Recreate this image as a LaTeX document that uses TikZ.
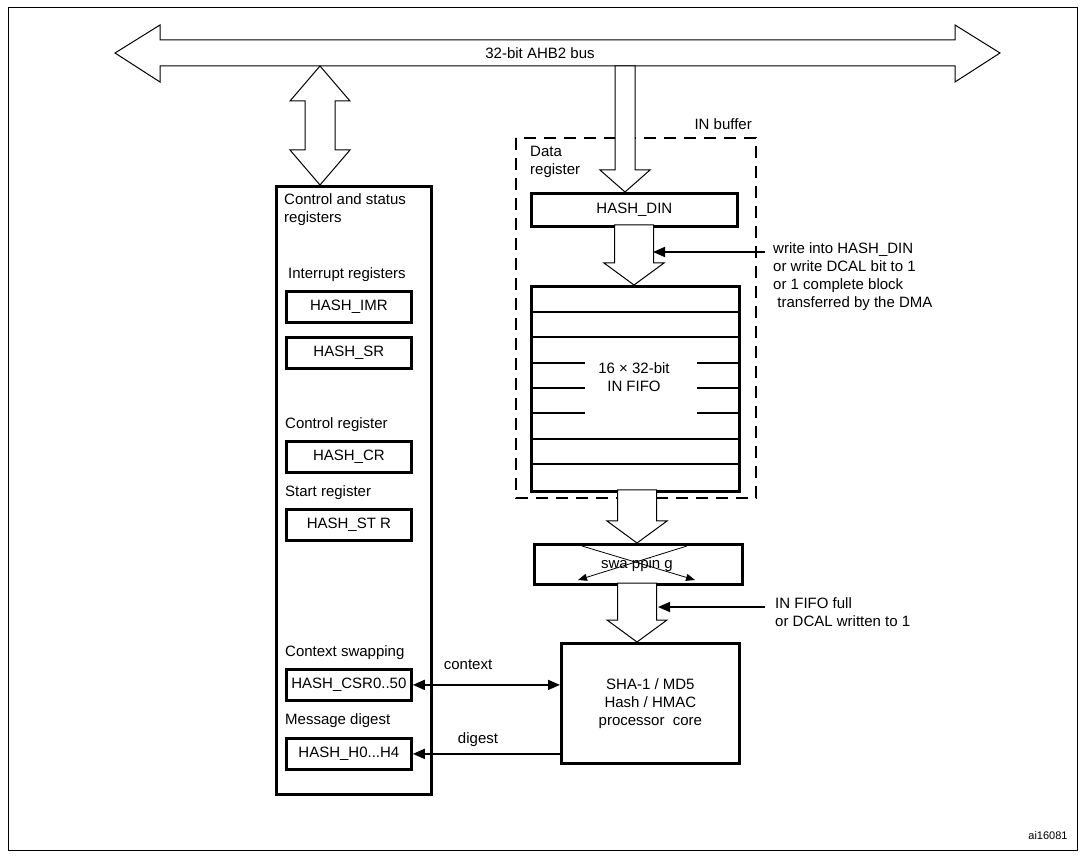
\documentclass[tikz,border=0pt]{standalone}
\usepackage{fontspec}
\setmainfont{Liberation Sans}
\usetikzlibrary{arrows.meta,positioning}
\tikzset{
  txt/.style={font=\fontsize{15}{18}\selectfont},
  box/.style={draw, line width=2.8pt, inner sep=0pt},
  reg/.style={box, txt, minimum width=125pt, minimum height=31pt},
  lbl/.style={txt, inner sep=0pt},
  hollow/.style={draw, line width=1pt, fill=white},
  sig/.style={line width=1.6pt, -{Triangle[length=12pt,width=10pt]}}
}
% block arrow pointing down: x center, top y, tip y, half shaft, half head
\newcommand{\downarrowblk}[5]{%
  \draw[hollow] (#1-#4,#2) -- (#1+#4,#2) -- (#1+#4,#3-22) -- (#1+#5,#3-22)
    -- (#1,#3) -- (#1-#5,#3-22) -- (#1-#4,#3-22) -- cycle;}
\begin{document}
\begin{tikzpicture}[x=1pt,y=-1pt]
\useasboundingbox (0,0) rectangle (1085,858);
% Frame
\draw[line width=1pt] (8,8) rectangle (1077,850);

% Bus
\draw[hollow] (115,53) -- (160,25) -- (160,40) -- (955,40) -- (955,25) -- (1000,53)
  -- (955,82) -- (955,66) -- (160,66) -- (160,82) -- cycle;
\node[lbl] (bus) at (540,53) {32-bit AHB2 bus};

% Bus <-> control registers
\draw[hollow] (320,66) -- (350,101) -- (335,101) -- (335,150) -- (350,150) -- (320,185)
  -- (290,150) -- (305,150) -- (305,101) -- (290,101) -- cycle;

% Control and status registers
\node[box, minimum width=155pt, minimum height=608pt, anchor=north west] (ctrl) at (275,185) {};
\node[lbl, align=left, anchor=north west] (ctrlt) at (284,193) {Control and status\\registers};
\node[lbl, anchor=south west] (intt) at (288,282) {Interrupt registers};
\node[reg, anchor=north west] (imr) at (285,290) {HASH\_IMR};
\node[reg, anchor=north west] (sr) at (285,336) {HASH\_SR};
\node[lbl, anchor=south west] (crt) at (285,432) {Control register};
\node[reg, anchor=north west] (cr) at (285,440) {HASH\_CR};
\node[lbl, anchor=south west] (strt) at (285,500) {Start register};
\node[reg, anchor=north west] (str) at (285,508) {HASH\_ST R};
\node[lbl, anchor=south west] (csrt) at (285,660) {Context swapping};
\node[reg, anchor=north west] (csr) at (285,668) {HASH\_CSR0..50};
\node[lbl, anchor=south west] (hdt) at (285,728) {Message digest};
\node[reg, anchor=north west] (hd) at (285,737) {HASH\_H0...H4};

% IN buffer
\draw[line width=1.2pt, dash pattern=on 12pt off 8pt] (516,138) rectangle (756,498);
\node[lbl, anchor=south east] (inbuf) at (752,130) {IN buffer};
\node[lbl, align=left, anchor=north west] (dreg) at (530,146) {Data\\register};
\node[reg, minimum width=206pt, minimum height=33pt, anchor=north west] (din) at (530,192) {HASH\_DIN};
\downarrowblk{625}{66}{192}{10}{25}
\downarrowblk{634}{225}{285}{19.5}{30}

% IN FIFO
\node[box, minimum width=208pt, minimum height=205pt, anchor=north west] (fifo) at (530,285) {};
\foreach \y in {312,337,439,464}
  \draw[line width=2.8pt] (530,\y) -- (738,\y);
\foreach \y in {363,388,413} {
  \draw[line width=2.8pt] (530,\y) -- (585,\y);
  \draw[line width=2.8pt] (697,\y) -- (738,\y);
}
\node[lbl, align=center] (fifot) at (634,377) {16 × 32-bit\\IN FIFO};
\downarrowblk{637}{490}{543}{19.5}{30}

% Swapping
\node[box, minimum width=208pt, minimum height=40pt, anchor=north west] (swap) at (533,543) {};
\draw[line width=0.8pt, -{Triangle[length=9pt,width=7pt]}] (582,546) -- (695,580);
\draw[line width=0.8pt, -{Triangle[length=9pt,width=7pt]}] (687,546) -- (578,580);
\node[lbl] (swapt) at (637,565) {swa ppin g};
\downarrowblk{637}{583}{642}{19.5}{30}

% Hash core
\node[box, minimum width=178pt, minimum height=120pt, anchor=north west, lbl, align=center] (core) at (560,642)
  {SHA-1 / MD5\\Hash / HMAC\\processor \ core};

% Triggers
\coordinate (wr) at (765,252);
\coordinate (full) at (765,607);
\draw[sig] (wr) -- (653,252);
\draw[sig] (full) -- (658,607);
\node[lbl, align=left, anchor=north west] (wrt) at (773,242)
  {write into HASH\_DIN\\or write DCAL bit to 1\\or 1 complete block\\\ transferred by the DMA};
\node[lbl, align=left, anchor=north west] (fullt) at (775,597) {IN FIFO full\\or DCAL written to 1};

% Context and digest
\draw[line width=1.6pt, {Triangle[length=12pt,width=10pt]}-{Triangle[length=12pt,width=10pt]}] (csr.east) -- (csr.east -| core.west);
\node[lbl] (ctx) at (468,665) {context};
\draw[sig] (hd.east -| core.west) -- (hd.east);
\node[lbl] (dig) at (478,740) {digest};

\node[font=\fontsize{11}{13}\selectfont, inner sep=0pt] (fig) at (1048,836) {ai16081};
\end{tikzpicture}
\end{document}
